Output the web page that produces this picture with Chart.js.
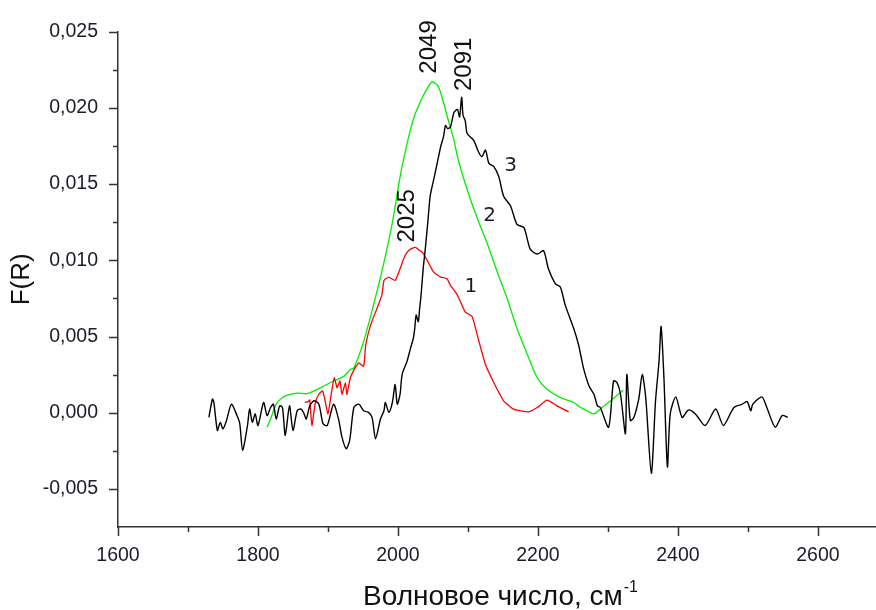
<!DOCTYPE html>
<html>
<head>
<meta charset="utf-8">
<script src="https://cdn.jsdelivr.net/npm/chart.js@4/dist/chart.umd.min.js"></script>
<style>
  html, body { margin: 0; padding: 0; background: #fff; }
  canvas { display: block; }
</style>
</head>
<body>
<canvas id="spectra" width="876" height="610"></canvas>
<script>
// Curve 1 (red)
const wave1 = [1867,1872,1874,1877,1882,1887,1892,1895,1900,1905,1909,1913,1917,1920,1925,1927,1932,1937,1944,1951,
  1954,1961,1970,1977,1980,1987,1996,2003,2008,2013,2018,2025,2030,2035,2042,2051,2061,2070,2075,2085,
  2096,2106,2115,2125,2137,2151,2165,2187,2199,2213,2227,2244];
const fr1 = [0.00067,0.00073,0.00084,-0.00084,0.00067,0.00121,0.00143,0.00099,-0.00008,0.00132,
  0.00229,0.00164,0.00208,0.00121,0.00197,0.00121,0.00229,0.00279,0.00327,0.00305,
  0.00446,0.00576,0.00684,0.00771,0.00868,0.0089,0.00868,0.00944,0.01009,0.01052,
  0.01073,0.01085,0.01068,0.01052,0.00998,0.00922,0.0089,0.00879,0.00836,0.00771,
  0.00662,0.0063,0.0048,0.00316,0.00197,0.00078,0.00024,0.00006,0.00034,0.00082,
  0.00045,0.00006];

// Curve 2 (green)
const wave2 = [1813,1818,1825,1832,1842,1856,1870,1882,1894,1908,1923,1932,1937,1951,1965,1980,1992,2004,2013,2023,
  2035,2044,2049,2057,2063,2070,2080,2086,2099,2113,2127,2142,2156,2170,2185,2199,2213,2232,2251,2261,
  2270,2280,2289,2308,2322];
const fr2 = [-0.00095,-0.00041,0.00045,0.00089,0.00115,0.00128,0.00125,0.00147,0.00175,0.00208,
  0.0024,0.00284,0.00294,0.00468,0.00706,0.00987,0.01247,0.01572,0.01766,0.0194,
  0.0207,0.02145,0.0217,0.02145,0.0207,0.0195,0.01788,0.0166,0.01463,0.01279,
  0.01117,0.00922,0.00749,0.00554,0.00381,0.00229,0.00154,0.00099,0.00067,0.00034,
  0.00013,-0.00008,0.00024,0.00095,0.00147];

// Curve 3 (black)
const wave3 = [1730,1731,1735,1737,1742,1746,1750,1755,1762,1770,1774,1778,1785,1788,1792,1796,1800,1808,1813,1818,
  1822,1826,1831,1835,1839,1845,1850,1856,1861,1865,1869,1874,1880,1887,1893,1899,1908,1915,1920,1926,
  1931,1937,1944,1951,1958,1963,1968,1975,1980,1982,1987,1992,1996,1999,2003,2006,2013,2018,2022,2024,
  2026,2029,2031,2033,2036,2039,2043,2046,2051,2056,2061,2065,2068,2071,2075,2080,2085,2088,2091,2093,
  2096,2099,2108,2115,2120,2125,2130,2137,2144,2151,2161,2170,2180,2189,2199,2208,2215,2225,2232,2239,
  2251,2258,2265,2273,2280,2285,2289,2301,2308,2313,2318,2325,2327,2332,2337,2344,2349,2354,2362,2368,
  2373,2376,2380,2385,2389,2397,2406,2415,2425,2439,2454,2465,2480,2492,2499,2504,2507,2520,2527,2539,
  2549,2557];
const fr3 = [-0.0003,0.0000,0.00089,0.00067,-0.00117,-0.00063,-0.00106,-0.00052,0.00056,-0.00019,
  -0.00073,-0.00247,-0.00084,0.00024,-0.00063,-0.00008,-0.00084,0.00067,-0.00019,0.00034,
  0.00056,-0.00041,0.00045,0.00034,-0.00149,0.00045,-0.00117,0.00013,0.00024,0.00002,
  -0.00041,0.00045,0.00078,0.00056,-0.00073,-0.00084,0.00056,-0.00041,-0.0016,-0.00236,
  -0.00182,0.00034,0.00056,0.00013,0.00002,-0.00031,-0.00171,-0.00041,0.00013,0.00067,
  0.00002,0.00067,0.00186,0.00056,0.00121,0.00251,0.00338,0.00424,0.00489,0.00554,
  0.00641,0.00597,0.00684,0.00771,0.00944,0.01073,0.01268,0.0142,0.01528,0.01636,
  0.01745,0.0181,0.01885,0.01864,0.01875,0.0197,0.0199,0.0194,0.0207,0.0195,
  0.01918,0.01831,0.01788,0.01712,0.0168,0.01723,0.01636,0.01615,0.0155,0.0142,
  0.01355,0.01236,0.01214,0.01073,0.01041,0.01063,0.00944,0.00846,0.00825,0.00706,
  0.00554,0.00446,0.00294,0.00175,0.00121,0.00045,0.00034,-0.00095,0.00208,0.00197,
  0.00121,-0.00138,0.00251,-0.00052,-0.00031,0.00089,0.00251,0.00099,-0.00398,0.00078,
  0.00338,0.00565,0.00229,-0.00355,-0.00008,0.00104,-0.00031,0.00018,-0.00008,-0.00084,
  0.00024,-0.00084,0.00034,0.00056,0.00073,0.00013,0.00056,0.00104,0.00034,-0.00095,
  -0.00019,-0.00031];

// axis ticks
const xTicks = [1600, 1800, 2000, 2200, 2400, 2600];
const xMinor = [1700, 1900, 2100, 2300, 2500];
const yTicks = [-0.005, 0, 0.005, 0.010, 0.015, 0.020, 0.025];
const yMinor = [-0.0025, 0.0025, 0.0075, 0.0125, 0.0175, 0.0225];

// peak positions and curve numbers, placed in data units
const peakLabels = [
  { text: '2049', x: 2045, y: 0.0240 },
  { text: '2091', x: 2095, y: 0.02286 },
  { text: '2025', x: 2014, y: 0.01292 }
];
const curveNumbers = [
  { text: '1', x: 2104, y: 0.00825 },
  { text: '2', x: 2131, y: 0.01292 },
  { text: '3', x: 2161, y: 0.01617 }
];

const FONT = '"Liberation Sans", Arial, sans-serif';
const pts = (xs, ys) => xs.map((x, i) => ({ x: x, y: ys[i] }));

const decor = {
  id: 'decor',
  afterDraw(chart) {
    const ctx = chart.ctx;
    const xs = chart.scales.x, ys = chart.scales.y;
    const area = chart.chartArea;
    ctx.save();
    ctx.strokeStyle = '#333';
    ctx.lineWidth = 1.5;
    ctx.beginPath();
    xTicks.concat(xMinor).forEach(v => {
      const px = Math.round(xs.getPixelForValue(v)) + 0.5;
      const len = xTicks.includes(v) ? 9 : 5;
      ctx.moveTo(px, area.bottom);
      ctx.lineTo(px, area.bottom + len);
    });
    yTicks.concat(yMinor).forEach(v => {
      const py = Math.round(ys.getPixelForValue(v)) + 0.5;
      const len = yTicks.includes(v) ? 9 : 5;
      ctx.moveTo(area.left, py);
      ctx.lineTo(area.left - len, py);
    });
    ctx.stroke();

    ctx.fillStyle = '#111';
    // axis titles
    ctx.textAlign = 'center';
    ctx.textBaseline = 'middle';
    ctx.font = '26px ' + FONT;
    ctx.save();
    ctx.translate(22, (area.top + area.bottom) / 2);
    ctx.rotate(-Math.PI / 2);
    ctx.fillText('F(R)', 0, 0);
    ctx.restore();

    const main = 'Волновое число, см';
    ctx.font = '28px ' + FONT;
    const w = ctx.measureText(main).width;
    ctx.font = '16px ' + FONT;
    const ws = ctx.measureText('-1').width;
    const startX = (area.left + area.right) / 2 - (w + ws) / 2 + 3;
    ctx.textAlign = 'left';
    ctx.font = '28px ' + FONT;
    ctx.fillText(main, startX, 597);
    ctx.font = '16px ' + FONT;
    ctx.fillText('-1', startX + w + 1, 588);

    // rotated peak positions
    ctx.textAlign = 'center';
    ctx.font = '24px ' + FONT;
    peakLabels.forEach(l => {
      ctx.save();
      ctx.translate(xs.getPixelForValue(l.x), ys.getPixelForValue(l.y));
      ctx.rotate(-Math.PI / 2);
      ctx.fillText(l.text, 0, 0);
      ctx.restore();
    });
    ctx.font = '20px "DejaVu Sans", sans-serif';
    ctx.fillStyle = '#1a1a2a';
    curveNumbers.forEach(l => {
      ctx.fillText(l.text, xs.getPixelForValue(l.x), ys.getPixelForValue(l.y));
    });
    ctx.restore();
  }
};

new Chart(document.getElementById('spectra'), {
  type: 'scatter',
  data: {
    datasets: [
      { label: '3', data: pts(wave3, fr3), borderColor: '#000', borderWidth: 1.4, tension: 0.25 },
      { label: '1', data: pts(wave1, fr1), borderColor: '#ff0000', borderWidth: 1.3, tension: 0.15 },
      { label: '2', data: pts(wave2, fr2), borderColor: '#00ee00', borderWidth: 1.3, tension: 0.3 }
    ].map(d => Object.assign(d, { showLine: true, pointRadius: 0, fill: false }))
  },
  options: {
    responsive: false,
    animation: false,
    devicePixelRatio: 1,
    layout: { padding: { top: 27, right: 0, left: 0, bottom: 0 } },
    plugins: { legend: { display: false }, tooltip: { enabled: false } },
    scales: {
      x: {
        type: 'linear',
        min: 1600,
        max: 2683,
        afterFit: s => { s.height = 83; },
        afterBuildTicks: s => { s.ticks = xTicks.map(v => ({ value: v })); },
        grid: { display: false, drawTicks: false },
        border: { display: true, color: '#333', width: 1.5 },
        ticks: {
          color: '#1c1c28',
          padding: 17,
          maxRotation: 0,
          font: { family: FONT, size: 19.5 },
          callback: v => String(v)
        }
      },
      y: {
        type: 'linear',
        min: -0.0075,
        max: 0.025,
        afterFit: s => { s.width = 118; },
        afterBuildTicks: s => { s.ticks = yTicks.map(v => ({ value: v })); },
        grid: { display: false, drawTicks: false },
        border: { display: true, color: '#333', width: 1.5 },
        ticks: {
          color: '#1c1c28',
          padding: 20,
          font: { family: FONT, size: 19.5 },
          callback: v => v.toFixed(3).replace('.', ',')
        }
      }
    }
  },
  plugins: [decor]
});
</script>
</body>
</html>
